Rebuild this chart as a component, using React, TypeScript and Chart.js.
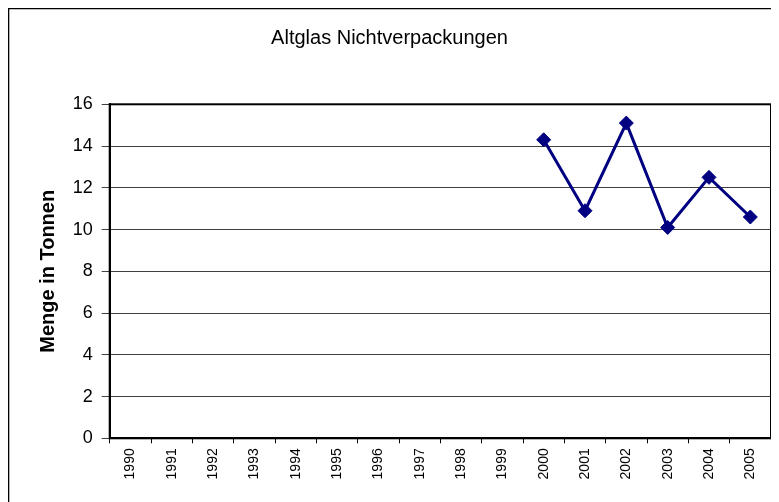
import React, { useEffect, useRef } from "react";
import { Chart, registerables } from "chart.js";

Chart.register(...registerables);

const years = ["1990", "1991", "1992", "1993", "1994", "1995", "1996", "1997", "1998", "1999", "2000", "2001", "2002", "2003", "2004", "2005"];
const mengeValues: (number | null)[] = [null, null, null, null, null, null, null, null, null, null, 14.3, 10.9, 15.1, 10.1, 12.5, 10.6];
const chartTitle = "Altglas Nichtverpackungen";
const yAxisTitle = "Menge in Tonnen";
const yMin = 0;
const yMax = 16;
const yStep = 2;

const FONT = "'Liberation Sans', Arial, sans-serif";

const framePlugin = {
  id: "frame",
  beforeDatasetsDraw(chart: any) {
    const { ctx, chartArea } = chart;
    ctx.save();
    ctx.strokeStyle = "#000";
    ctx.lineWidth = 2;
    ctx.strokeRect(chartArea.left, chartArea.top, chartArea.right - chartArea.left, chartArea.bottom - chartArea.top);
    ctx.restore();
  },
  afterDraw(chart: any) {
    const { ctx, width, height } = chart;
    ctx.save();
    ctx.strokeStyle = "#000";
    ctx.lineWidth = 1.6;
    ctx.beginPath();
    ctx.moveTo(0.5, height);
    ctx.lineTo(0.5, 0.5);
    ctx.lineTo(width, 0.5);
    ctx.stroke();
    ctx.restore();
  },
};

export default function App() {
  const ref = useRef<HTMLCanvasElement | null>(null);
  useEffect(() => {
    if (!ref.current) return;
    const chart = new Chart(ref.current, {
      type: "line",
      data: {
        labels: years,
        datasets: [
          {
            label: yAxisTitle,
            data: mengeValues,
            borderColor: "#000080",
            backgroundColor: "#000080",
            borderWidth: 3,
            pointStyle: "rectRot",
            pointRadius: 7,
            pointBorderWidth: 1,
            pointBackgroundColor: "#000080",
            pointBorderColor: "#000080",
            tension: 0,
          },
        ],
      },
      options: {
        responsive: false,
        animation: false,
        devicePixelRatio: 1,
        layout: { padding: { left: 0, right: 8, top: 0, bottom: 0 } },
        plugins: {
          legend: { display: false },
          tooltip: { enabled: false },
          title: {
            display: true,
            text: chartTitle,
            color: "#000",
            font: { family: FONT, size: 20, weight: "normal", lineHeight: 1.2 },
            padding: { top: 18, bottom: 54.3 },
          },
        },
        scales: {
          x: {
            type: "category",
            offset: true,
            grid: {
              display: true,
              drawOnChartArea: false,
              drawTicks: true,
              tickLength: 5,
              tickColor: "#000",
              tickWidth: 1,
              offset: true,
            },
            border: { display: true, color: "#000", width: 2 },
            ticks: {
              autoSkip: false,
              maxRotation: 90,
              minRotation: 90,
              padding: 5,
              color: "#000",
              font: { family: FONT, size: 14 },
            },
            afterFit(scale: any) {
              scale.height = 63.7;
            },
          },
          y: {
            min: yMin,
            max: yMax,
            ticks: {
              stepSize: yStep,
              padding: 9,
              color: "#000",
              font: { family: FONT, size: 18 },
            },
            grid: {
              color: "#404040",
              lineWidth: 1,
              drawTicks: true,
              tickLength: 8,
              tickColor: "#404040",
            },
            border: { display: true, color: "#000", width: 2 },
            title: {
              display: true,
              text: yAxisTitle,
              color: "#000",
              font: { family: FONT, size: 20, weight: "bold", lineHeight: 1.2 },
              padding: { top: 28, bottom: 0 },
            },
            afterFit(scale: any) {
              scale.width = 101.7;
            },
          },
        },
      },
      plugins: [framePlugin],
    });
    return () => chart.destroy();
  }, []);
  return (
    <div style={{ width: 771, height: 494 }}>
      <canvas ref={ref} width={771} height={494} style={{ display: "block", width: 771, height: 494 }} />
    </div>
  );
}
